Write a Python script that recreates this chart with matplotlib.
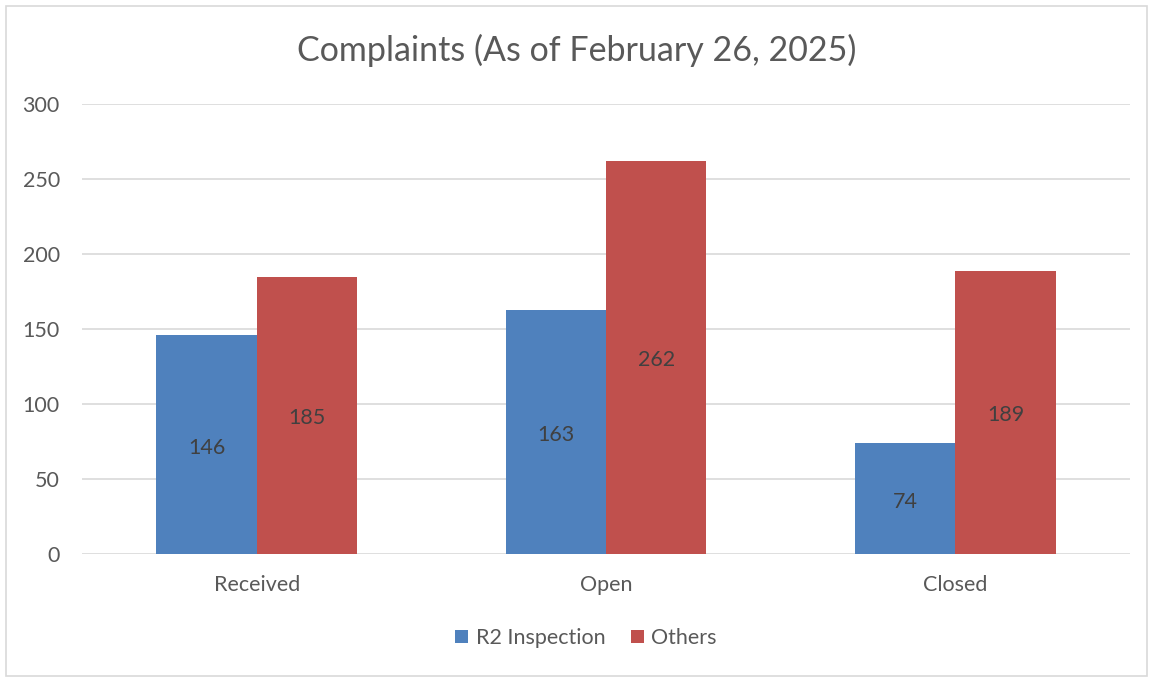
import numpy as np
import matplotlib.pyplot as plt
from matplotlib.patches import Rectangle

plt.rcParams['font.family'] = ['Lato', 'DejaVu Sans']

# chart data
categories = ['Received', 'Open', 'Closed']
r2_inspection = [146, 163, 74]
others = [185, 262, 189]
y_ticks = [0, 50, 100, 150, 200, 250, 300]

blue = '#4F81BD'
red = '#C0504D'
text_col = '#595959'
label_col = '#404040'

fig = plt.figure(figsize=(11.54, 6.79), dpi=100)
fig.patches.append(Rectangle((6 / 1154, 3 / 679), 1141 / 1154, 670 / 679,
                             transform=fig.transFigure, fill=False,
                             edgecolor='#D9D9D9', linewidth=1.2))

ax = fig.add_axes([82 / 1154, 125 / 679, 1048 / 1154, 450 / 679])

x = np.arange(len(categories))
w = 0.287
b1 = ax.bar(x - w / 2, r2_inspection, w, color=blue, label='R2 Inspection', zorder=3)
b2 = ax.bar(x + w / 2, others, w, color=red, label='Others', zorder=3)

# value labels in the middle of each bar (slightly below centre, like Excel)
for bars, vals in ((b1, r2_inspection), (b2, others)):
    for rect, v in zip(bars, vals):
        ax.annotate(str(v), (rect.get_x() + rect.get_width() / 2, v / 2),
                    xytext=(0, -3), textcoords='offset pixels',
                    ha='center', va='center', fontsize=15.5, color=label_col, zorder=4)

ax.set_xlim(-0.5, 2.5)
ax.set_ylim(0, 300)
ax.set_yticks(y_ticks)
ax.set_xticks(x)
ax.set_xticklabels(categories)
ax.tick_params(axis='both', length=0, labelsize=15.5, labelcolor=text_col)
ax.tick_params(axis='x', pad=15)
ax.tick_params(axis='y', pad=16)
ax.grid(axis='y', color='#D9D9D9', linewidth=1.2, zorder=0)
for s in ax.spines.values():
    s.set_visible(False)

fig.text(0.5, 1 - 50 / 679, 'Complaints (As of February 26, 2025)', ha='center', va='center',
         fontsize=24.5, color=text_col)

leg = fig.legend(loc='center', bbox_to_anchor=(586 / 1154, 1 - 638 / 679), ncol=2, frameon=False,
                 fontsize=15.5, handlelength=0.6, handleheight=0.6, handletextpad=0.35,
                 columnspacing=1.2)
for t in leg.get_texts():
    t.set_color(text_col)

fig.savefig('out.png', dpi=100)
